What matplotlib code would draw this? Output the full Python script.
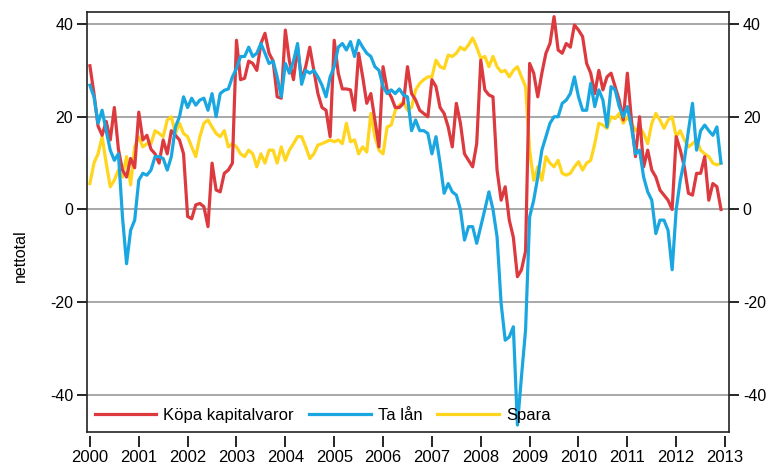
import numpy as np
import matplotlib
matplotlib.use("Agg")
import matplotlib.pyplot as plt

plt.rcParams['font.family'] = ['Liberation Sans', 'DejaVu Sans']

# monthly values Jan 2000 - Dec 2012 (nettotal)
kopa = [31, 25, 18, 16, 19, 15, 22, 13, 8.5, 7, 11, 9,
        21, 15, 16, 13, 12, 10, 15, 12, 17, 16, 15, 12,
        -1.5, -2, 1, 1.3, 0.6, -3.7, 10, 4.2, 3.8, 7.8, 8.5, 10,
        36.5, 28, 28.3, 32, 31.5, 30, 35.8, 38, 33.7, 32, 24.3, 24,
        38.7, 32, 28, 35, 28, 30.8, 35, 30, 25, 22, 21.4, 15.7,
        36.5, 29.4, 26, 26, 25.8, 21.4, 33.7, 28.6, 22.9, 25, 19.3, 13.5,
        30.8, 25.8, 24.3, 22, 22, 22.9, 30.8, 25, 23.6, 21.4, 20.7, 20,
        28, 26.5, 22, 20.7, 17.8, 13.5, 22.9, 18.6, 12, 10.6, 9.2, 14.2,
        32.2, 25.8, 24.7, 24.3, 8.5, 2, 4.9, -2.3, -6, -14.5, -13, -9,
        31.5, 29.4, 24.3, 29.4, 33.7, 35.8, 41.6, 34.4, 33.7, 35.8, 35, 39.8,
        38.7, 37.3, 31.5, 29.4, 25, 30, 25.8, 28.6, 29.4, 26.5, 23.6, 19.3,
        29.4, 19.3, 11.4, 20, 9.2, 12.8, 8.5, 7, 4.2, 3.1, 2, 0,
        15.7, 12.8, 9.2, 3.5, 3.1, 7.8, 7.8, 11.4, 2, 5.6, 4.9, 0]

ta_lan = [26.8, 24.3, 18.6, 21.4, 17, 12.8, 10.6, 12, -1.6, -11.7, -4.5, -2.3,
          6.3, 7.8, 7.4, 8.5, 11.4, 11.4, 11, 8.5, 11.4, 17.8, 20, 24.3,
          22, 24, 22.5, 23.6, 24, 21.4, 25, 20, 25, 25.7, 26, 28.6,
          30.4, 33, 33, 35, 33, 33.7, 35.8, 33.7, 31.5, 32, 28.6, 24.3,
          31.5, 29.4, 32, 35.8, 27, 30, 29.4, 30, 28.6, 26.8, 24.3, 28.6,
          30.8, 35, 35.8, 34.4, 36.2, 33, 36.5, 35, 33.7, 33, 30.8, 30,
          26.5, 25, 25.8, 25, 26, 24.7, 24.3, 17, 19.3, 17, 17, 16.4,
          12, 15.7, 10, 3.5, 5.6, 3.8, 3.1, 0, -6.6, -3.7, -3.7, -7.3,
          -3.7, 0, 3.8, 0, -5.9, -20.3, -28.2, -27.5, -25.3, -46.5, -36, -26,
          -1.6, 2, 7, 12.8, 15.7, 18.6, 20, 20, 22.9, 23.6, 25, 28.6,
          24.3, 21.4, 21.4, 27.2, 22.2, 25.8, 23.6, 17.8, 26.5, 25.8, 22.2, 20,
          22.2, 17.8, 12, 12.8, 7, 3.8, 2, -5.2, -2.3, -2.3, -4.5, -13,
          0, 6.3, 10.6, 17, 22.9, 12.8, 17, 18.2, 17, 16, 17.8, 10]

spara = [5.6, 10, 12, 15.7, 10, 4.9, 6.3, 8.5, 7, 11.4, 5.3, 13.5,
         15.7, 13.5, 14.2, 14.2, 17, 16.4, 15.7, 19.3, 20, 16.4, 18.6, 16.4,
         15.7, 13.5, 11.4, 15.7, 18.6, 19.3, 17.8, 16.4, 15.7, 17, 13.5, 14.2,
         13.5, 12, 11.4, 12.8, 12, 9.2, 12, 10, 12.8, 12.8, 10, 13.5,
         10.6, 12.8, 14.2, 15.7, 15.7, 13.5, 11, 12, 13.9, 14.2, 14.6, 15,
         14.6, 15, 14.2, 18.6, 14.6, 15, 12, 13.5, 12.4, 20.7, 15.7, 12.8,
         12, 17.8, 18.2, 21.4, 22.5, 23.2, 21.4, 22, 25.8, 27.2, 28, 28.6,
         28.6, 32.2, 30.8, 30.4, 33.3, 33, 33.7, 35, 34.4, 35.5, 37, 35,
         32.6, 33, 30.8, 33, 30.8, 29.7, 30, 28.6, 30, 30.8, 28.6, 26.5,
         12.8, 6.3, 9.2, 6.3, 11.4, 10, 9.2, 10.6, 7.8, 7.4, 7.8, 9.2,
         10.3, 8.5, 10, 10.6, 14.2, 18.6, 18.2, 17.5, 20, 19.6, 20.7, 18.6,
         20, 18.6, 17, 17.8, 16.4, 14.2, 18.6, 20.7, 19.3, 17.5, 19.3, 20,
         15.7, 17, 15, 13.5, 14.2, 15, 12.8, 12, 11.4, 10, 9.6, 10]

years = list(range(2000, 2014))
yticks = [-40, -20, 0, 20, 40]
x = 2000 + np.arange(len(kopa)) / 12

fig = plt.figure(figsize=(7.71, 4.68), dpi=100)
ax = fig.add_axes([0.1128, 0.0769, 0.8327, 0.8975])

# x ticks sit slightly below the frame (set before tick styling, it resets ticks)
ax.spines['bottom'].set_position(('outward', 3))
ax.spines['bottom'].set_visible(False)
ax.plot([0, 1], [0, 0], transform=ax.transAxes, color='#222222', lw=1.2,
        clip_on=False, zorder=5)
for s in ['left', 'right', 'top']:
    ax.spines[s].set_linewidth(1.2)
    ax.spines[s].set_color('#222222')

for y in yticks:
    ax.axhline(y, color='#9a9a9a', lw=1.2, zorder=1)

ax.plot(x, kopa, color='#DC3A3F', lw=2.3, label='Köpa kapitalvaror', zorder=3)
ax.plot(x, ta_lan, color='#1AA7E1', lw=2.3, label='Ta lån', zorder=3)
ax.plot(x, spara, color='#FFD51E', lw=2.3, label='Spara', zorder=2)

ax.set_xlim(1999.94, 2013.08)
ax.set_ylim(-48, 42.6)
ax.set_xticks(years)
ax.set_xticklabels([str(y) for y in years])
ax.set_yticks(yticks)
ax.set_yticklabels([str(y) for y in yticks])

ax.tick_params(axis='y', which='both', direction='out', length=7, width=1.2,
               pad=3, left=True, right=True, labelleft=True, labelright=True,
               labelsize=11.5)
ax.tick_params(axis='x', direction='out', length=8, width=1.2, pad=2,
               labelsize=12)

ax.set_ylabel('nettotal', fontsize=11.5)
ax.yaxis.set_label_coords(-0.092, 0.42)

ax.legend(loc='center left', bbox_to_anchor=(0.012, 0.04), ncol=3,
          frameon=False, fontsize=12, handlelength=3.7, handletextpad=0.42,
          columnspacing=0.9, borderaxespad=0, borderpad=0)

fig.savefig('out.png', dpi=100)
